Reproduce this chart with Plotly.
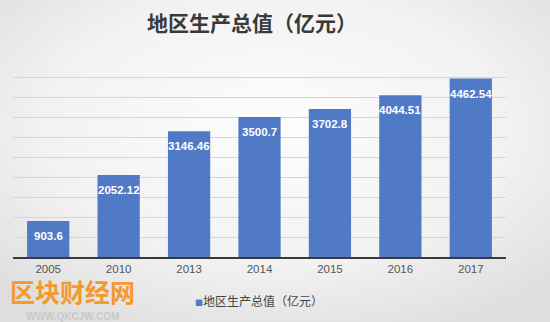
import base64
import plotly.graph_objects as go

years = ["2005", "2010", "2013", "2014", "2015", "2016", "2017"]
gdp = [903.6, 2052.12, 3146.46, 3500.7, 3702.8, 4044.51, 4462.54]
labels = ["903.6", "2052.12", "3146.46", "3500.7", "3702.8", "4044.51", "4462.54"]
series_name = "地区生产总值（亿元）"
title_text = "地区生产总值（亿元）"

CJK = "Noto Sans CJK SC, Liberation Sans, sans-serif"
LAT = "Liberation Sans, Arial, sans-serif"
BAR = "#5079c6"

L, R, T, B = 13, 44, 57, 65
PW, PH = 550 - L - R, 322 - T - B

svg = (
    "<svg xmlns='http://www.w3.org/2000/svg' width='550' height='322'>"
    "<defs><radialGradient id='g' cx='50%' cy='40%' r='70%'>"
    "<stop offset='0' stop-color='#fdfdfd'/><stop offset='0.6' stop-color='#f2f2f2'/>"
    "<stop offset='1' stop-color='#dedede'/></radialGradient></defs>"
    "<rect width='550' height='322' fill='url(#g)'/></svg>"
)
bg_uri = "data:image/svg+xml;base64," + base64.b64encode(svg.encode()).decode()

fig = go.Figure()
fig.add_trace(go.Bar(
    x=years, y=gdp, name=series_name,
    marker=dict(color=BAR, line=dict(width=0)),
    showlegend=False, hoverinfo="x+y",
))

# value labels inside the top of each bar (x given as category index)
for i, (v, lab) in enumerate(zip(gdp, labels)):
    fig.add_annotation(x=i, y=v, text="<b>%s</b>" % lab, showarrow=False,
                       xanchor="center", yanchor="middle", yshift=-15,
                       font=dict(color="white", size=11.5, family=LAT))

fig.update_layout(
    width=550, height=322,
    margin=dict(l=L, r=R, t=T, b=B),
    paper_bgcolor="#f1f1f1", plot_bgcolor="rgba(0,0,0,0)",
    bargap=0.4,
    title=dict(text="<b>" + title_text + "</b>", x=0.458, xanchor="center",
               y=1 - 24 / 322, yanchor="middle",
               font=dict(size=21, color="#3a3a3a", family=CJK)),
    xaxis=dict(type="category", range=[-0.5, len(years) - 0.5],
               showline=True, linecolor="#3a3a3a", linewidth=1.5, ticks="",
               tickfont=dict(size=11.5, color="#555555", family=LAT),
               showgrid=False),
    yaxis=dict(range=[0, 5003], dtick=500, showticklabels=False, showgrid=True,
               gridcolor="#d6d6d6", gridwidth=1, zeroline=False, showline=False),
    images=[dict(source=bg_uri, xref="paper", yref="paper",
                 x=-L / PW, y=1 + T / PH, sizex=550 / PW, sizey=322 / PH,
                 xanchor="left", yanchor="top", sizing="stretch", layer="below")],
)

# legend
fig.add_annotation(
    text="<span style='color:%s;font-size:8px'>■</span>%s" % (BAR, series_name),
    xref="paper", yref="paper", x=(259 - L) / PW, y=(257 - 300) / PH,
    xanchor="center", yanchor="middle", showarrow=False,
    font=dict(size=12, color="#444444", family=CJK))

# watermark
fig.add_annotation(text="<b>区块财经网</b>", xref="paper", yref="paper",
                   x=(72 - L) / PW, y=(257 - 291) / PH, xanchor="center", yanchor="middle",
                   showarrow=False, borderpad=0,
                   font=dict(size=25, color="#f29a2e", family=CJK))
fig.add_annotation(text="<b>WWW.QKCJW.COM</b>", xref="paper", yref="paper",
                   x=(72 - L) / PW, y=(257 - 316) / PH, xanchor="center", yanchor="middle",
                   showarrow=False, borderpad=0,
                   font=dict(size=10, color="#c9c9c9", family=LAT))

fig.write_html("out.html")
